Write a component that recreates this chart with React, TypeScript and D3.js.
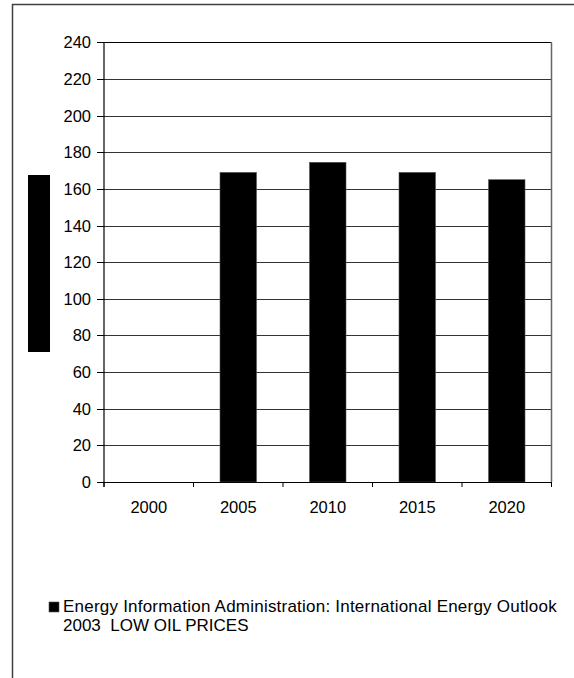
import React from "react";
import * as d3 from "d3";

const categories = ["2000", "2005", "2010", "2015", "2020"];
const values: (number | null)[] = [null, 169, 174.5, 169, 165];
const yTicks = [0, 20, 40, 60, 80, 100, 120, 140, 160, 180, 200, 220, 240];
const legendLine1 = "Energy Information Administration: International Energy Outlook";
const legendLine2 = "2003  LOW OIL PRICES";

const W = 574;
const H = 678;
const left = 104;
const right = 551.5;
const top = 42.3;
const bottom = 482;

export default function App() {
  const x = d3.scaleBand<string>().domain(categories).range([left, right]).padding(0);
  const y = d3.scaleLinear().domain([0, 240]).range([bottom, top]);
  const step = x.step();
  const bw = 36.5;
  const font = "'Liberation Sans', Arial, sans-serif";
  const boundaries = d3.range(categories.length + 1).map((i) => left + i * step);

  return (
    <svg
      width={W}
      height={H}
      style={{ position: "absolute", left: 0, top: 0, background: "#fff" }}
      fontFamily={font}
    >
      <rect x={0} y={0} width={W} height={H} fill="#fff" />
      {/* outer frame */}
      <rect x={12.5} y={4.5} width={700} height={800} fill="none" stroke="#404040" strokeWidth={1.5} />
      {/* y title rendered as block */}
      <rect x={28} y={175} width={22} height={177} fill="#000" />

      {/* gridlines */}
      {yTicks.map((t) => (
        <line key={"g" + t} x1={left} x2={right} y1={Math.round(y(t)) + 0.5} y2={Math.round(y(t)) + 0.5} stroke={t === 240 ? "#000" : "#333"} strokeWidth={1} />
      ))}
      {/* right border */}
      <line x1={right} x2={right} y1={top} y2={bottom} stroke="#666" strokeWidth={1.5} />

      {/* bars */}
      {categories.map((c, i) => {
        const v = values[i];
        if (v == null) return null;
        const bx = (x(c) as number) + (step - bw) / 2;
        return (
          <rect key={c} x={bx} y={y(v)} width={bw} height={y(0) - y(v)} fill="#000" stroke="#555" strokeWidth={0.6} />
        );
      })}

      {/* y axis */}
      <line x1={left} x2={left} y1={top} y2={bottom + 5} stroke="#000" strokeWidth={1.2} />
      {yTicks.map((t) => (
        <g key={"t" + t}>
          <line x1={left - 7} x2={left} y1={Math.round(y(t)) + 0.5} y2={Math.round(y(t)) + 0.5} stroke="#000" />
          <text x={91} y={y(t) + 6} textAnchor="end" fontSize={16.5} fill="#000">
            {t}
          </text>
        </g>
      ))}

      {/* x axis */}
      <line x1={left} x2={right} y1={Math.round(bottom) + 0.5} y2={Math.round(bottom) + 0.5} stroke="#000" strokeWidth={1.2} />
      {boundaries.map((bx, i) => (
        <line key={"xt" + i} x1={bx} x2={bx} y1={bottom} y2={bottom + 5} stroke="#000" />
      ))}
      {categories.map((c) => (
        <text key={"xl" + c} x={(x(c) as number) + step / 2} y={513} textAnchor="middle" fontSize={16.5} fill="#000">
          {c}
        </text>
      ))}

      {/* legend */}
      <rect x={49} y={602} width={10} height={10} fill="#000" stroke="#555" strokeWidth={0.6} />
      <text x={63} y={612} fontSize={17} fill="#000" letterSpacing={0.22}>
        {legendLine1}
      </text>
      <text x={63} y={631} fontSize={17} fill="#000" style={{ whiteSpace: "pre" }}>
        {legendLine2}
      </text>
    </svg>
  );
}
